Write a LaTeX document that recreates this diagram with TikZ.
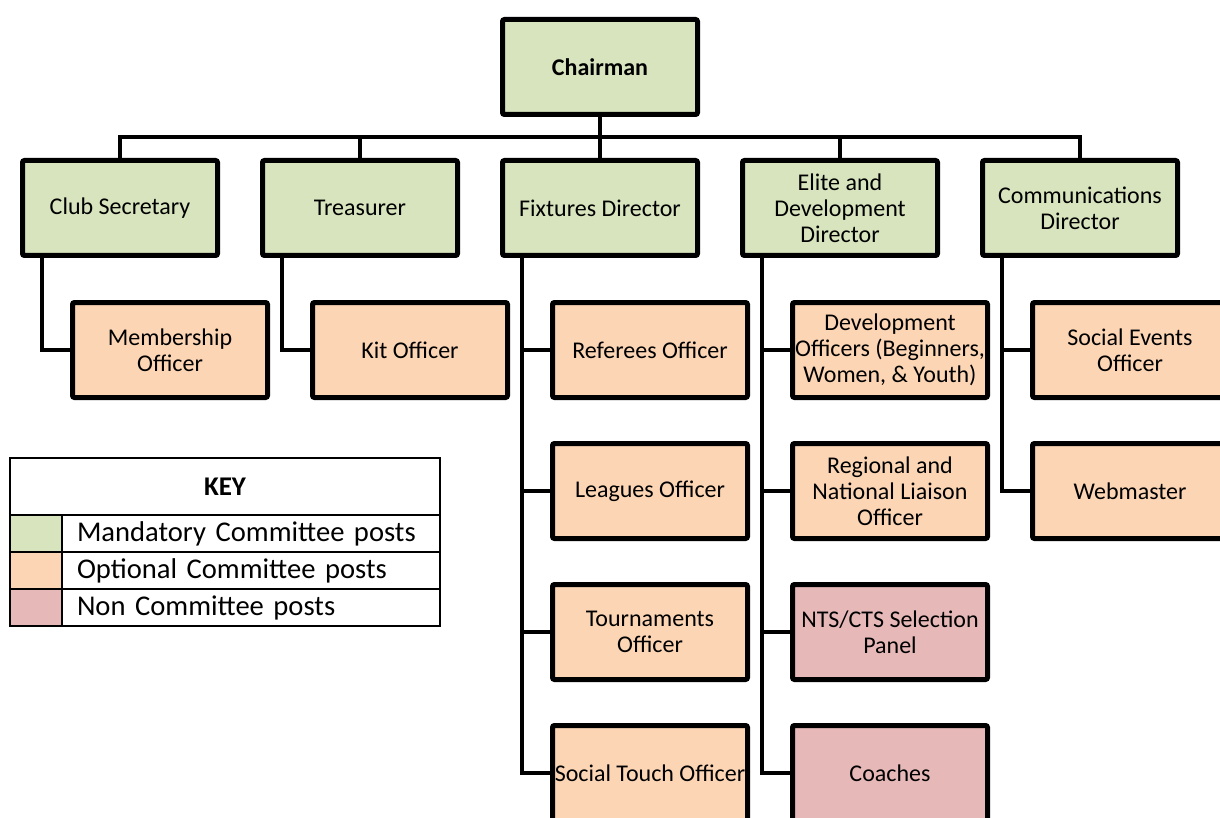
\documentclass[tikz,border=0pt]{standalone}
\usepackage{fontspec}
\setmainfont{Carlito}
\usepackage{tikz}
\usetikzlibrary{positioning,calc}
\definecolor{orgink}{HTML}{000000}
\definecolor{orgmand}{HTML}{D7E4BD}
\definecolor{orgopt}{HTML}{FCD5B5}
\definecolor{orgnon}{HTML}{E6B9B8}
\tikzset{
  post/.style    = {rectangle, rounded corners=1pt, draw=orgink, line width=2.5pt, align=center,
                    minimum width=97.5pt, minimum height=47.5pt, inner sep=0pt,
                    font=\fontsize{12pt}{13pt}\selectfont},
  mand/.style    = {post, fill=orgmand},
  opt/.style     = {post, fill=orgopt},
  non/.style     = {post, fill=orgnon},
  link/.style    = {draw=orgink, line width=2pt},
  keycell/.style = {rectangle, draw=orgink, line width=0.75pt, outer sep=0pt, inner sep=0pt,
                    minimum height=18.5pt, anchor=north west},
  keytext/.style = {keycell, inner xsep=7.5pt, text width=174pt, align=left,
                    font=\fontsize{14.3pt}{16pt}\selectfont},
}

\begin{document}
\begin{tikzpicture}[x=0.5pt, y=-0.5pt, node distance=20.5pt and 20pt]
\clip (0,0) rectangle (1220,818);
% committee
\node[mand, font=\fontsize{12pt}{13pt}\selectfont\bfseries] (chair) at (600,67) {Chairman};
\node[mand] (cs) at (120,208) {Club Secretary};
\node[mand, right=of cs] (tr) {Treasurer};
\node[mand, right=of tr] (fd) {Fixtures Director};
\node[mand, right=of fd] (ed) {Elite and\\Development\\Director};
\node[mand, right=of ed] (cd) {Communications\\Director};

% posts under each director
\node[opt, below=21pt of cs, xshift=25pt] (mo) {Membership\\Officer};
\node[opt, below=21pt of tr, xshift=25pt] (ko) {Kit Officer};
\node[opt, below=21pt of fd, xshift=25pt] (ro) {Referees Officer};
\node[opt, below=of ro] (lo) {Leagues Officer};
\node[opt, below=of lo] (to) {Tournaments\\Officer};
\node[opt, below=of to] (sto) {Social Touch Officer};
\node[opt, below=21pt of ed, xshift=25pt] (dvo) {Development\\Officers (Beginners,\\Women, \& Youth)};
\node[opt, below=of dvo] (rno) {Regional and\\National Liaison\\Officer};
\node[non, below=of rno] (nts) {NTS/CTS Selection\\Panel};
\node[non, below=of nts] (co) {Coaches};
\node[opt, below=21pt of cd, xshift=25pt] (seo) {Social Events\\Officer};
\node[opt, below=of seo] (wm) {Webmaster};

% links
\draw[link] (chair) -- (fd);
\coordinate (bus) at ($(chair.south)!.5!(fd.north)$);
\draw[link] (cs.north) |- (bus) -| (cd.north);
\foreach \n in {tr,ed} \draw[link] (\n.north) -- (\n.north |- bus);
\draw[link] ([xshift=11pt]cs.south west) |- (mo.west);
\draw[link] ([xshift=11pt]tr.south west) |- (ko.west);
\draw[link] ([xshift=11pt]fd.south west) |- (sto.west);
\draw[link] ([xshift=11pt]ed.south west) |- (co.west);
\draw[link] ([xshift=11pt]cd.south west) |- (wm.west);
\foreach \n in {ro,lo,to,dvo,rno,nts,seo} \draw[link] (\n.west) -- ++(-14pt,0);

% key
\node[keycell, minimum width=215pt, minimum height=28.5pt,
      font=\fontsize{13.5pt}{15pt}\selectfont\bfseries] (key) at (10,458) {KEY};
\node[keycell, fill=orgmand, minimum width=26pt] (kmand) at (key.south west) {};
\node[keytext] (kmandtxt) at (kmand.north east) {Mandatory Committee posts};
\node[keycell, fill=orgopt, minimum width=26pt] (kopt) at (kmand.south west) {};
\node[keytext] (kopttxt) at (kopt.north east) {Optional Committee posts};
\node[keycell, fill=orgnon, minimum width=26pt] (knon) at (kopt.south west) {};
\node[keytext] (knontxt) at (knon.north east) {Non Committee posts};
\end{tikzpicture}
\end{document}
